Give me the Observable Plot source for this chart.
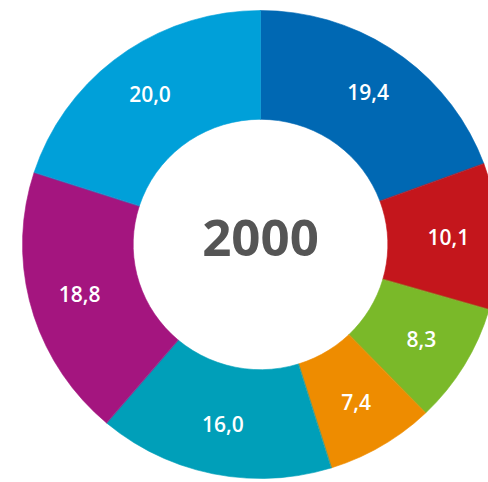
<!DOCTYPE html>
<html>
<head>
<meta charset="utf-8">
<script src="https://cdn.jsdelivr.net/npm/d3@7"></script>
<script src="https://cdn.jsdelivr.net/npm/@observablehq/plot@0.6"></script>
<style>
  html, body { margin: 0; padding: 0; background: #ffffff; }
  #chart svg { display: block; }
</style>
</head>
<body>
<div id="chart"></div>
<script>
// Data (shares in %, clockwise from 12 o'clock)
const categories = ["A", "B", "C", "D", "E", "F", "G"];
const values = [19.4, 10.1, 8.3, 7.4, 16.0, 18.8, 20.0];
const valueLabels = ["19,4", "10,1", "8,3", "7,4", "16,0", "18,8", "20,0"];
const colors = ["#0068b3", "#c4161c", "#7ab929", "#ee8c00", "#009fb9", "#a4157f", "#00a0d9"];
const centerLabel = "2000";

const total = d3.sum(values);
const outerR = 1;
const innerR = 0.535;
const labelR = 0.79;
const steps = 80;

// Build slice polygons and label anchors from the values
const polys = [];
const labelsData = [];
let acc = 0;
values.forEach((v, i) => {
  const a0 = (acc / total) * 2 * Math.PI;
  acc += v;
  const a1 = (acc / total) * 2 * Math.PI;
  const n = Math.max(2, Math.ceil(steps * (a1 - a0) / (2 * Math.PI)) + 1);
  for (let k = 0; k <= n; k++) {
    const a = a0 + (a1 - a0) * k / n;
    polys.push({cat: categories[i], color: colors[i], x: outerR * Math.sin(a), y: outerR * Math.cos(a)});
  }
  for (let k = n; k >= 0; k--) {
    const a = a0 + (a1 - a0) * k / n;
    polys.push({cat: categories[i], color: colors[i], x: innerR * Math.sin(a), y: innerR * Math.cos(a)});
  }
  const am = (a0 + a1) / 2;
  labelsData.push({label: valueLabels[i], x: labelR * Math.sin(am), y: labelR * Math.cos(am)});
});

const chart = Plot.plot({
  width: 488,
  height: 482,
  margin: 0,
  x: {domain: [-260 / 238, 228 / 238], range: [0, 488], axis: null},
  y: {domain: [-238 / 234, 244 / 234], range: [482, 0], axis: null},
  color: {type: "identity"},
  style: {background: "#ffffff"},
  marks: [
    Plot.line(polys, {
      x: "x", y: "y", z: "cat",
      fill: "color", stroke: "color", strokeWidth: 0.6,
      curve: "linear-closed"
    }),
    Plot.text(labelsData, {
      x: "x", y: "y", text: "label",
      fill: "#ffffff", fontSize: 21, fontWeight: 600,
      fontFamily: "'Open Sans', sans-serif"
    }),
    Plot.text([centerLabel], {
      x: () => 0, y: () => 0.02, text: d => d,
      fill: "#555555", fontSize: 51, fontWeight: 700,
      fontFamily: "'Open Sans', sans-serif"
    })
  ]
});
document.getElementById("chart").appendChild(chart);
</script>
</body>
</html>
